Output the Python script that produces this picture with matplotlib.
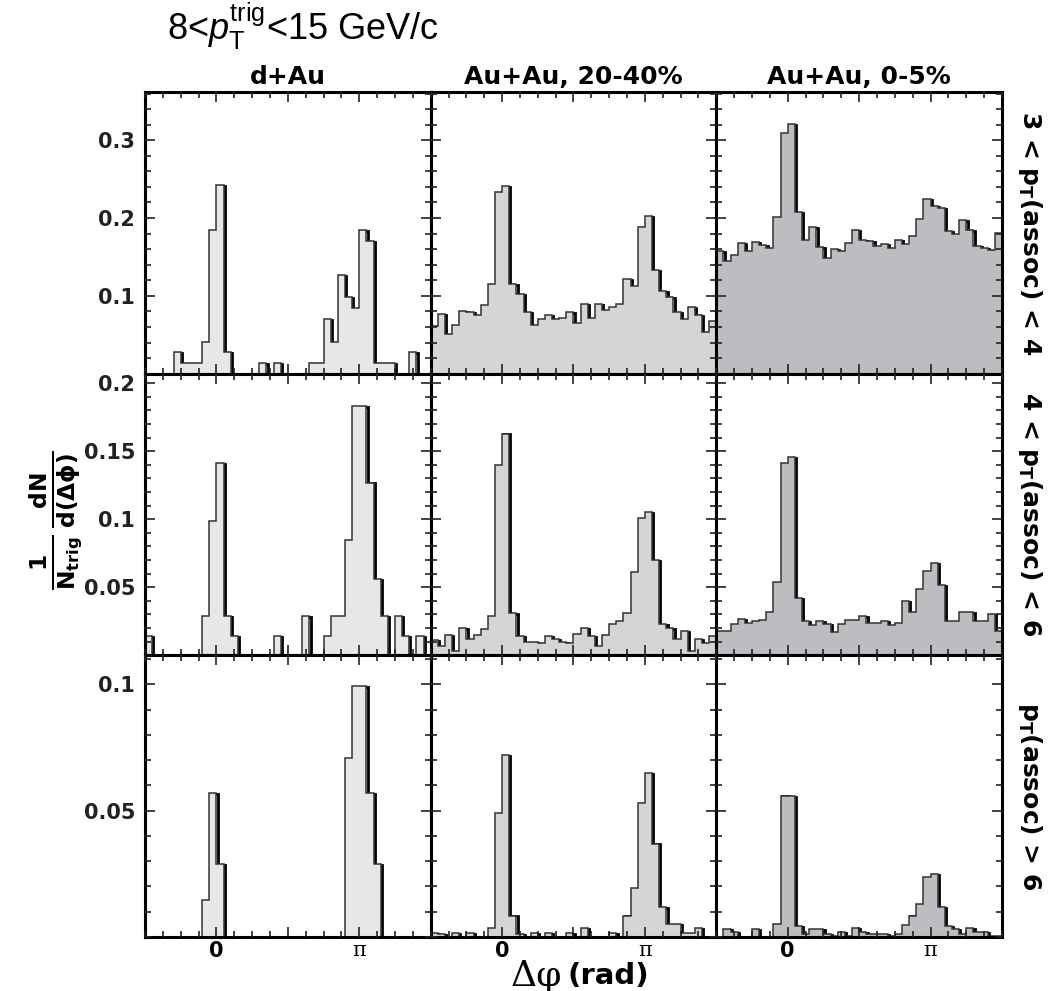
import numpy as np
import matplotlib.pyplot as plt
from matplotlib import transforms
from matplotlib.ticker import MultipleLocator, FixedLocator, FormatStrFormatter

plt.rcParams['mathtext.fontset'] = 'custom'
plt.rcParams['mathtext.rm'] = 'Liberation Sans'
plt.rcParams['mathtext.it'] = 'Liberation Sans:italic'
plt.rcParams['mathtext.bf'] = 'DejaVu Sans:bold'

# azimuthal correlations, 40 bins from -pi/2 to 3pi/2
systems = ['d+Au', 'Au+Au, 20-40%', 'Au+Au, 0-5%']
assoc_bins = ['3 < p$_{\\mathbf{T}}$(assoc) < 4',
              '4 < p$_{\\mathbf{T}}$(assoc) < 6',
              'p$_{\\mathbf{T}}$(assoc) > 6']

dau_34 = [0, 0, 0, 0, 0.028, 0.014, 0.014, 0.014, 0.041, 0.185,
          0.243, 0.028, 0, 0, 0, 0, 0.014, 0, 0.014, 0,
          0, 0, 0, 0.014, 0.014, 0.070, 0.041, 0.127, 0.099, 0.084,
          0.185, 0.171, 0.014, 0.014, 0.014, 0, 0, 0.028, 0, 0]
auau2040_34 = [0.061, 0.077, 0.051, 0.063, 0.081, 0.079, 0.075, 0.088, 0.115, 0.233,
               0.241, 0.115, 0.102, 0.079, 0.063, 0.070, 0.075, 0.070, 0.072, 0.079,
               0.065, 0.090, 0.072, 0.090, 0.082, 0.086, 0.089, 0.122, 0.113, 0.188,
               0.202, 0.133, 0.106, 0.099, 0.079, 0.070, 0.086, 0.075, 0.053, 0.068]
auau05_34 = [0.157, 0.145, 0.152, 0.168, 0.158, 0.169, 0.165, 0.161, 0.201, 0.309,
             0.321, 0.208, 0.172, 0.188, 0.163, 0.149, 0.160, 0.157, 0.168, 0.185,
             0.172, 0.170, 0.164, 0.167, 0.162, 0.172, 0.167, 0.177, 0.199, 0.224,
             0.215, 0.213, 0.183, 0.180, 0.198, 0.185, 0.164, 0.162, 0.159, 0.181]

dau_46 = [0.014, 0, 0, 0, 0, 0, 0, 0, 0.029, 0.099,
          0.141, 0.029, 0.014, 0, 0, 0, 0, 0, 0.014, 0,
          0, 0, 0.029, 0, 0, 0.014, 0.029, 0.029, 0.085, 0.183,
          0.183, 0.127, 0.056, 0.029, 0, 0.029, 0.014, 0, 0.014, 0]
auau2040_46 = [0.0115, 0.0066, 0.015, 0.0034, 0.020, 0.012, 0.015, 0.019, 0.029, 0.140,
               0.163, 0.031, 0.014, 0.010, 0.010, 0.009, 0.014, 0.012, 0.010, 0.009,
               0.016, 0.020, 0.014, 0.007, 0.015, 0.023, 0.025, 0.031, 0.061, 0.101,
               0.105, 0.070, 0.023, 0.020, 0.012, 0.018, 0.003, 0.012, 0.009, 0.014]
auau05_46 = [0.018, 0.018, 0.023, 0.027, 0.024, 0.025, 0.026, 0.032, 0.054, 0.141,
             0.146, 0.042, 0.025, 0.022, 0.025, 0.023, 0.017, 0.023, 0.026, 0.026,
             0.029, 0.024, 0.024, 0.025, 0.022, 0.024, 0.040, 0.032, 0.049, 0.062,
             0.068, 0.052, 0.025, 0.025, 0.032, 0.032, 0.025, 0.025, 0.030, 0.018]

dau_6 = [0, 0, 0, 0, 0, 0, 0, 0, 0.0146, 0.057,
         0.029, 0, 0, 0, 0, 0, 0, 0, 0, 0,
         0, 0, 0, 0, 0, 0, 0, 0, 0.071, 0.0995,
         0.0995, 0.057, 0.029, 0, 0, 0, 0, 0, 0, 0]
auau2040_6 = [0.0015, 0.001, 0, 0.0015, 0, 0.0015, 0, 0, 0.0036, 0.049,
              0.072, 0.0085, 0.001, 0, 0.0015, 0, 0.0015, 0, 0, 0.0015,
              0, 0.0036, 0, 0, 0, 0.0015, 0, 0.0085, 0.0195, 0.053,
              0.065, 0.037, 0.0118, 0.005, 0.005, 0.0015, 0.0015, 0.0036, 0, 0]
auau05_6 = [0, 0.003, 0.002, 0, 0, 0.003, 0, 0, 0.0053, 0.056,
            0.0557, 0.0045, 0.001, 0.003, 0.003, 0.001, 0.0005, 0.002, 0.0005, 0.0036,
            0.002, 0.001, 0.001, 0.001, 0.0005, 0.001, 0.0049, 0.0085, 0.0129, 0.0239,
            0.025, 0.0118, 0.0045, 0.003, 0.001, 0.0036, 0.002, 0.002, 0.0005, 0.0005]

hists = [[dau_34, auau2040_34, auau05_34],
         [dau_46, auau2040_46, auau05_46],
         [dau_6, auau2040_6, auau05_6]]

row_ylim = [0.362, 0.207, 0.1115]
row_major = [[0.1, 0.2, 0.3], [0.05, 0.1, 0.15, 0.2], [0.05, 0.1]]
row_minor = [0.02, 0.01, 0.01]
fills = ['#e6e7e8', '#d4d5d7', '#bcbdc0']

edges = np.linspace(-np.pi / 2, 3 * np.pi / 2, 41)

fig, axes = plt.subplots(3, 3, figsize=(10.64, 9.91), dpi=100,
                         sharex=True, sharey='row')
fig.subplots_adjust(left=0.1363, right=0.9417, top=0.9072, bottom=0.0545,
                    wspace=0, hspace=0)

for r in range(3):
    for c in range(3):
        ax = axes[r][c]
        vals = np.array(hists[r][c])
        # dark shadow under the outline, offset right/down
        shadow = transforms.offset_copy(ax.transData, fig=fig, x=0.9, y=-0.7,
                                        units='points')
        ax.stairs(vals, edges, baseline=0, color='black', lw=2.0,
                  transform=shadow, zorder=2)
        ax.stairs(vals, edges, baseline=0, fill=True, color=fills[c], zorder=3)
        ax.stairs(vals, edges, baseline=0, color='#333333', lw=1.1, zorder=4)

        ax.set_xlim(-np.pi / 2, 3 * np.pi / 2)
        ax.set_ylim(0, row_ylim[r])
        ax.yaxis.set_major_locator(FixedLocator(row_major[r]))
        ax.yaxis.set_minor_locator(MultipleLocator(row_minor[r]))
        ax.yaxis.set_major_formatter(FormatStrFormatter('%g'))
        ax.xaxis.set_minor_locator(MultipleLocator(np.pi / 8))

        ax.tick_params(which='both', direction='in', top=True, right=True,
                       width=1.2, color='#222222')
        ax.tick_params(which='major', length=7)
        ax.tick_params(which='minor', length=4)
        ax.tick_params(axis='y', labelsize=15, pad=7)
        ax.tick_params(axis='x', labelsize=15, pad=3)
        for sp in ax.spines.values():
            sp.set_linewidth(2.2)
            sp.set_zorder(6)
        ax.xaxis.set_zorder(6)
        ax.yaxis.set_zorder(6)
        for lab in ax.get_yticklabels():
            lab.set_fontweight('bold')
            lab.set_color('#222222')

        if r == 0:
            ax.set_title(systems[c], fontsize=18, fontweight='bold', pad=6)

for ax in axes[2]:
    ax.set_xticks([0, np.pi / 2, np.pi])
    ax.set_xticklabels(['0', '', 'π'])
    labs = ax.get_xticklabels()
    labs[0].set_fontweight('bold')
    labs[2].set_family('DejaVu Serif')
    labs[2].set_fontsize(15)

# assoc pT ranges on the right
for r in range(3):
    bb = axes[r][2].get_position()
    fig.text(0.968, (bb.y0 + bb.y1) / 2, assoc_bins[r], rotation=-90,
             ha='center', va='center', fontsize=18, fontweight='bold')

fig.text(167 / 1064, 1 - 40 / 991, '8<$p_{\\mathrm{T}}^{\\mathrm{trig}}$<15 GeV/c',
         fontsize=26, family='Liberation Sans', ha='left', va='baseline')

fig.text(0.052, 0.475,
         r'$\mathbf{\frac{1}{N_{trig}}\,\frac{dN}{d(\Delta\phi)}}$',
         rotation=90, ha='center', va='center', fontsize=24)

fig.text(562 / 1064, 1 - 976 / 991, 'Δφ', family='DejaVu Serif',
         fontsize=26, ha='right', va='center')
fig.text(568 / 1064, 1 - 976 / 991, '(rad)', fontweight='bold',
         fontsize=21, ha='left', va='center')

fig.savefig('out.png', dpi=100)
